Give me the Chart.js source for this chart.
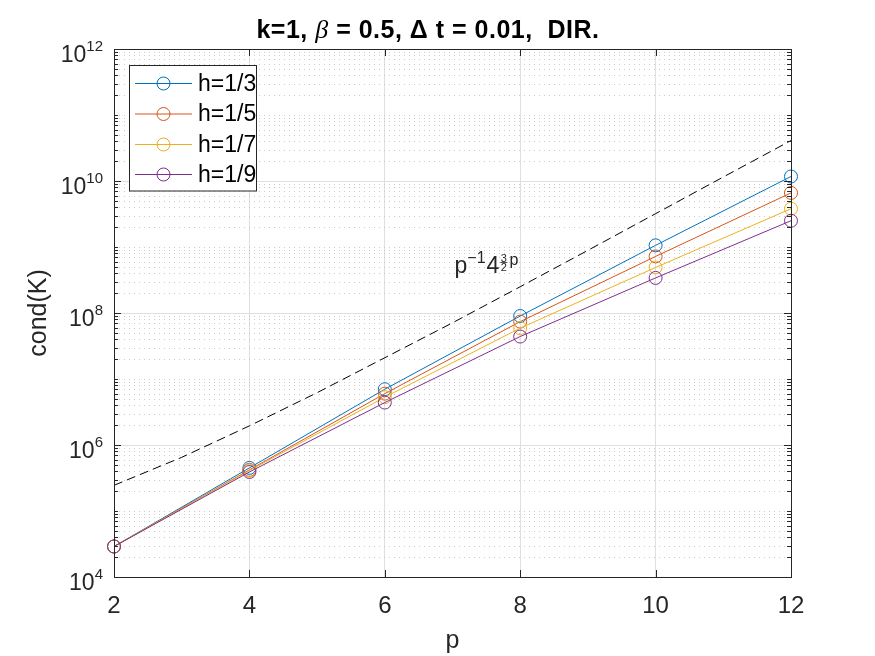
<!DOCTYPE html>
<html>
<head>
<meta charset="utf-8">
<script src="https://cdn.jsdelivr.net/npm/chart.js@4.4.0/dist/chart.umd.min.js"></script>
<style>
html, body { margin: 0; padding: 0; background: #fff; }
canvas { display: block; }
</style>
</head>
<body>
<canvas id="condChart" width="875" height="656"></canvas>
<script>
// polynomial degree p (x axis)
var pValues = [2, 4, 6, 8, 10, 12];

// cond(K), one array per mesh size
var condH3 = [2.9e4, 4.5e5, 7.0e6, 9.0e7, 1.06e9, 1.17e10];
var condH5 = [2.9e4, 4.2e5, 6.0e6, 7.4e7, 7.2e8, 6.6e9];
var condH7 = [2.9e4, 4.1e5, 5.3e6, 5.9e7, 4.9e8, 3.8e9];
var condH9 = [2.9e4, 3.9e5, 4.4e6, 4.4e7, 3.4e8, 2.5e9];

// dashed reference curve
var refP = [2, 3, 4, 5, 6, 7, 8, 9, 10, 11, 12];
var refCond = [2.45e5, 6.5e5, 1.95e6, 6.2e6, 2.1e7, 7.1e7, 2.5e8, 8.9e8, 3.2e9, 1.15e10, 4.1e10];

var seriesLabels = ['h=1/3', 'h=1/5', 'h=1/7', 'h=1/9'];
var seriesColors = ['#0072BD', '#D95319', '#EDB120', '#7E2F8E'];

// tick labels
var xTickValues = [2, 4, 6, 8, 10, 12];
var yTickExponents = [4, 6, 8, 10, 12];

var FONT = '"Liberation Sans", Arial, Helvetica, sans-serif';
var INK = '#262626';

function toPoints(xs, ys) {
    return xs.map(function (x, i) { return { x: x, y: ys[i] }; });
}

function line(ctx, x1, y1, x2, y2) {
    ctx.beginPath();
    ctx.moveTo(x1, y1);
    ctx.lineTo(x2, y2);
    ctx.stroke();
}

// minor values between decades (dotted grid + small ticks)
function minorValues() {
    var out = [];
    for (var e = 4; e < 12; e++) {
        for (var m = 1; m <= 9; m++) {
            if (m === 1 && yTickExponents.indexOf(e) > -1) continue;
            out.push(m * Math.pow(10, e));
        }
    }
    return out;
}

// draws the MATLAB style box, ticks, labels, title, legend
var matlabLook = {
    id: 'matlabLook',
    beforeDatasetsDraw: function (chart) {
        var ctx = chart.ctx, a = chart.chartArea, ys = chart.scales.y;
        ctx.save();
        ctx.strokeStyle = '#cccccc';
        ctx.lineWidth = 1;
        ctx.setLineDash([1, 4]);
        minorValues().forEach(function (v) {
            var y = Math.round(ys.getPixelForValue(v)) + 0.5;
            line(ctx, a.left, y, a.right, y);
        });
        ctx.restore();
    },
    afterDraw: function (chart) {
        var ctx = chart.ctx, a = chart.chartArea;
        var xs = chart.scales.x, ys = chart.scales.y;
        ctx.save();

        // axes box
        ctx.strokeStyle = INK;
        ctx.lineWidth = 1;
        ctx.strokeRect(a.left + 0.5, a.top + 0.5, a.right - a.left, a.bottom - a.top);

        // x ticks (inward, bottom and top)
        xTickValues.forEach(function (v) {
            var x = Math.round(xs.getPixelForValue(v)) + 0.5;
            line(ctx, x, a.bottom, x, a.bottom - 7);
            line(ctx, x, a.top, x, a.top + 7);
        });
        // y ticks, major and minor, left and right
        yTickExponents.forEach(function (e) {
            var yy = Math.round(ys.getPixelForValue(Math.pow(10, e))) + 0.5;
            line(ctx, a.left, yy, a.left + 7, yy);
            line(ctx, a.right, yy, a.right - 7, yy);
        });
        minorValues().forEach(function (v) {
            var y = Math.round(ys.getPixelForValue(v)) + 0.5;
            line(ctx, a.left, y, a.left + 4, y);
            line(ctx, a.right, y, a.right - 4, y);
        });

        ctx.fillStyle = INK;

        // x tick labels
        ctx.font = '24px ' + FONT;
        ctx.textAlign = 'center';
        ctx.textBaseline = 'alphabetic';
        xTickValues.forEach(function (v) {
            ctx.fillText(String(v), xs.getPixelForValue(v), a.bottom + 36);
        });

        // y tick labels 10^n
        yTickExponents.forEach(function (e) {
            var y = ys.getPixelForValue(Math.pow(10, e));
            var ex = String(e);
            ctx.font = '15px ' + FONT;
            var wExp = ctx.measureText(ex).width;
            var right = a.left - 11;
            ctx.textAlign = 'left';
            ctx.fillText(ex, right - wExp, y + 2);
            ctx.font = '23px ' + FONT;
            ctx.textAlign = 'right';
            ctx.fillText('10', right - wExp, y + 13);
        });

        // axis titles
        ctx.font = '25px ' + FONT;
        ctx.textAlign = 'center';
        ctx.fillText('p', (a.left + a.right) / 2, 648);
        ctx.save();
        ctx.translate(46, (a.top + a.bottom) / 2);
        ctx.rotate(-Math.PI / 2);
        ctx.fillText('cond(K)', 0, 0);
        ctx.restore();

        // title: k=1, β = 0.5, Δ t = 0.01,  DIR.
        var parts = [
            { t: 'k=1, ', f: 'bold 25px ' + FONT },
            { t: 'β', f: 'italic 26px "Liberation Serif", "DejaVu Serif", serif' },
            { t: ' = 0.5, ', f: 'bold 25px ' + FONT },
            { t: 'Δ', f: 'bold 25px ' + FONT },
            { t: ' t = 0.01,  DIR.', f: 'bold 25px ' + FONT }
        ];
        ctx.letterSpacing = '0.5px';
        var total = 0;
        parts.forEach(function (p) { ctx.font = p.f; p.w = ctx.measureText(p.t).width; total += p.w; });
        var tx = 428 - total / 2;
        ctx.textAlign = 'left';
        ctx.fillStyle = '#000';
        parts.forEach(function (p) {
            ctx.font = p.f;
            ctx.fillText(p.t, tx, 38);
            tx += p.w;
        });
        ctx.letterSpacing = '0px';

        // annotation p^{-1} 4^{3/2 p} next to the dashed curve
        var ax = xs.getPixelForValue(7) + 2, ay = ys.getPixelForValue(4.1e8);
        ctx.fillStyle = INK;
        ctx.font = '23px ' + FONT;
        ctx.fillText('p', ax, ay);
        ax += ctx.measureText('p').width;
        ctx.font = '16px ' + FONT;
        ctx.fillText('\u22121', ax, ay - 10);
        ax += ctx.measureText('\u22121').width + 1;
        ctx.font = '23px ' + FONT;
        ctx.fillText('4', ax, ay);
        ax += ctx.measureText('4').width + 1;
        ctx.font = '11px ' + FONT;
        ctx.fillText('3', ax + 0.5, ay - 11);
        ctx.fillText('2', ax + 0.5, ay - 2);
        ctx.fillRect(ax, ay - 10.5, 7, 0.8);
        ax += ctx.measureText('3').width + 3;
        ctx.font = '16px ' + FONT;
        ctx.fillText('p', ax, ay - 8);

        // legend box
        var lx = 129.5, ly = 65.5, lw = 127, lh = 125.5;
        ctx.fillStyle = '#fff';
        ctx.fillRect(lx, ly, lw, lh);
        ctx.strokeStyle = INK;
        ctx.strokeRect(lx, ly, lw, lh);
        var rows = [83.5, 114, 144.5, 174.5];
        ctx.font = '23px ' + FONT;
        ctx.textBaseline = 'middle';
        seriesLabels.forEach(function (lab, i) {
            var y = rows[i];
            ctx.strokeStyle = seriesColors[i];
            ctx.lineWidth = 1;
            line(ctx, 135, y, 192, y);
            ctx.beginPath();
            ctx.arc(163.5, y, 6.5, 0, Math.PI * 2);
            ctx.stroke();
            ctx.fillStyle = '#000';
            ctx.fillText(lab, 198, y + 1);
        });

        ctx.restore();
    }
};

var seriesData = [condH3, condH5, condH7, condH9];
var datasets = seriesData.map(function (vals, i) {
    return {
        label: seriesLabels[i],
        data: toPoints(pValues, vals),
        borderColor: seriesColors[i],
        backgroundColor: 'rgba(0,0,0,0)',
        borderWidth: 1,
        pointRadius: 6.5,
        pointBorderWidth: 1,
        pointBorderColor: seriesColors[i],
        pointBackgroundColor: 'rgba(0,0,0,0)',
        tension: 0,
        clip: false,
        order: 4 - i
    };
});
datasets.push({
    label: 'ref',
    data: toPoints(refP, refCond),
    borderColor: '#000',
    borderWidth: 1,
    borderDash: [9, 5],
    pointRadius: 0,
    tension: 0,
    order: 0
});

var ctx = document.getElementById('condChart').getContext('2d');
var condChart = new Chart(ctx, {
    type: 'line',
    data: { datasets: datasets },
    options: {
        responsive: false,
        animation: false,
        events: [],
        layout: { padding: { left: 0, right: 84, top: 49, bottom: 0 } },
        plugins: {
            legend: { display: false },
            title: { display: false },
            tooltip: { enabled: false }
        },
        scales: {
            x: {
                type: 'linear',
                min: 2,
                max: 12,
                afterBuildTicks: function (s) {
                    s.ticks = xTickValues.map(function (v) { return { value: v }; });
                },
                afterFit: function (s) { s.height = 79; },
                ticks: { display: false },
                grid: { color: '#dfdfdf', drawTicks: false },
                border: { display: false }
            },
            y: {
                type: 'logarithmic',
                min: 1e4,
                max: 1e12,
                afterBuildTicks: function (s) {
                    s.ticks = yTickExponents.map(function (e) { return { value: Math.pow(10, e) }; });
                },
                afterFit: function (s) { s.width = 114; },
                ticks: { display: false },
                grid: { color: '#dfdfdf', drawTicks: false },
                border: { display: false }
            }
        }
    },
    plugins: [matlabLook]
});
</script>
</body>
</html>
